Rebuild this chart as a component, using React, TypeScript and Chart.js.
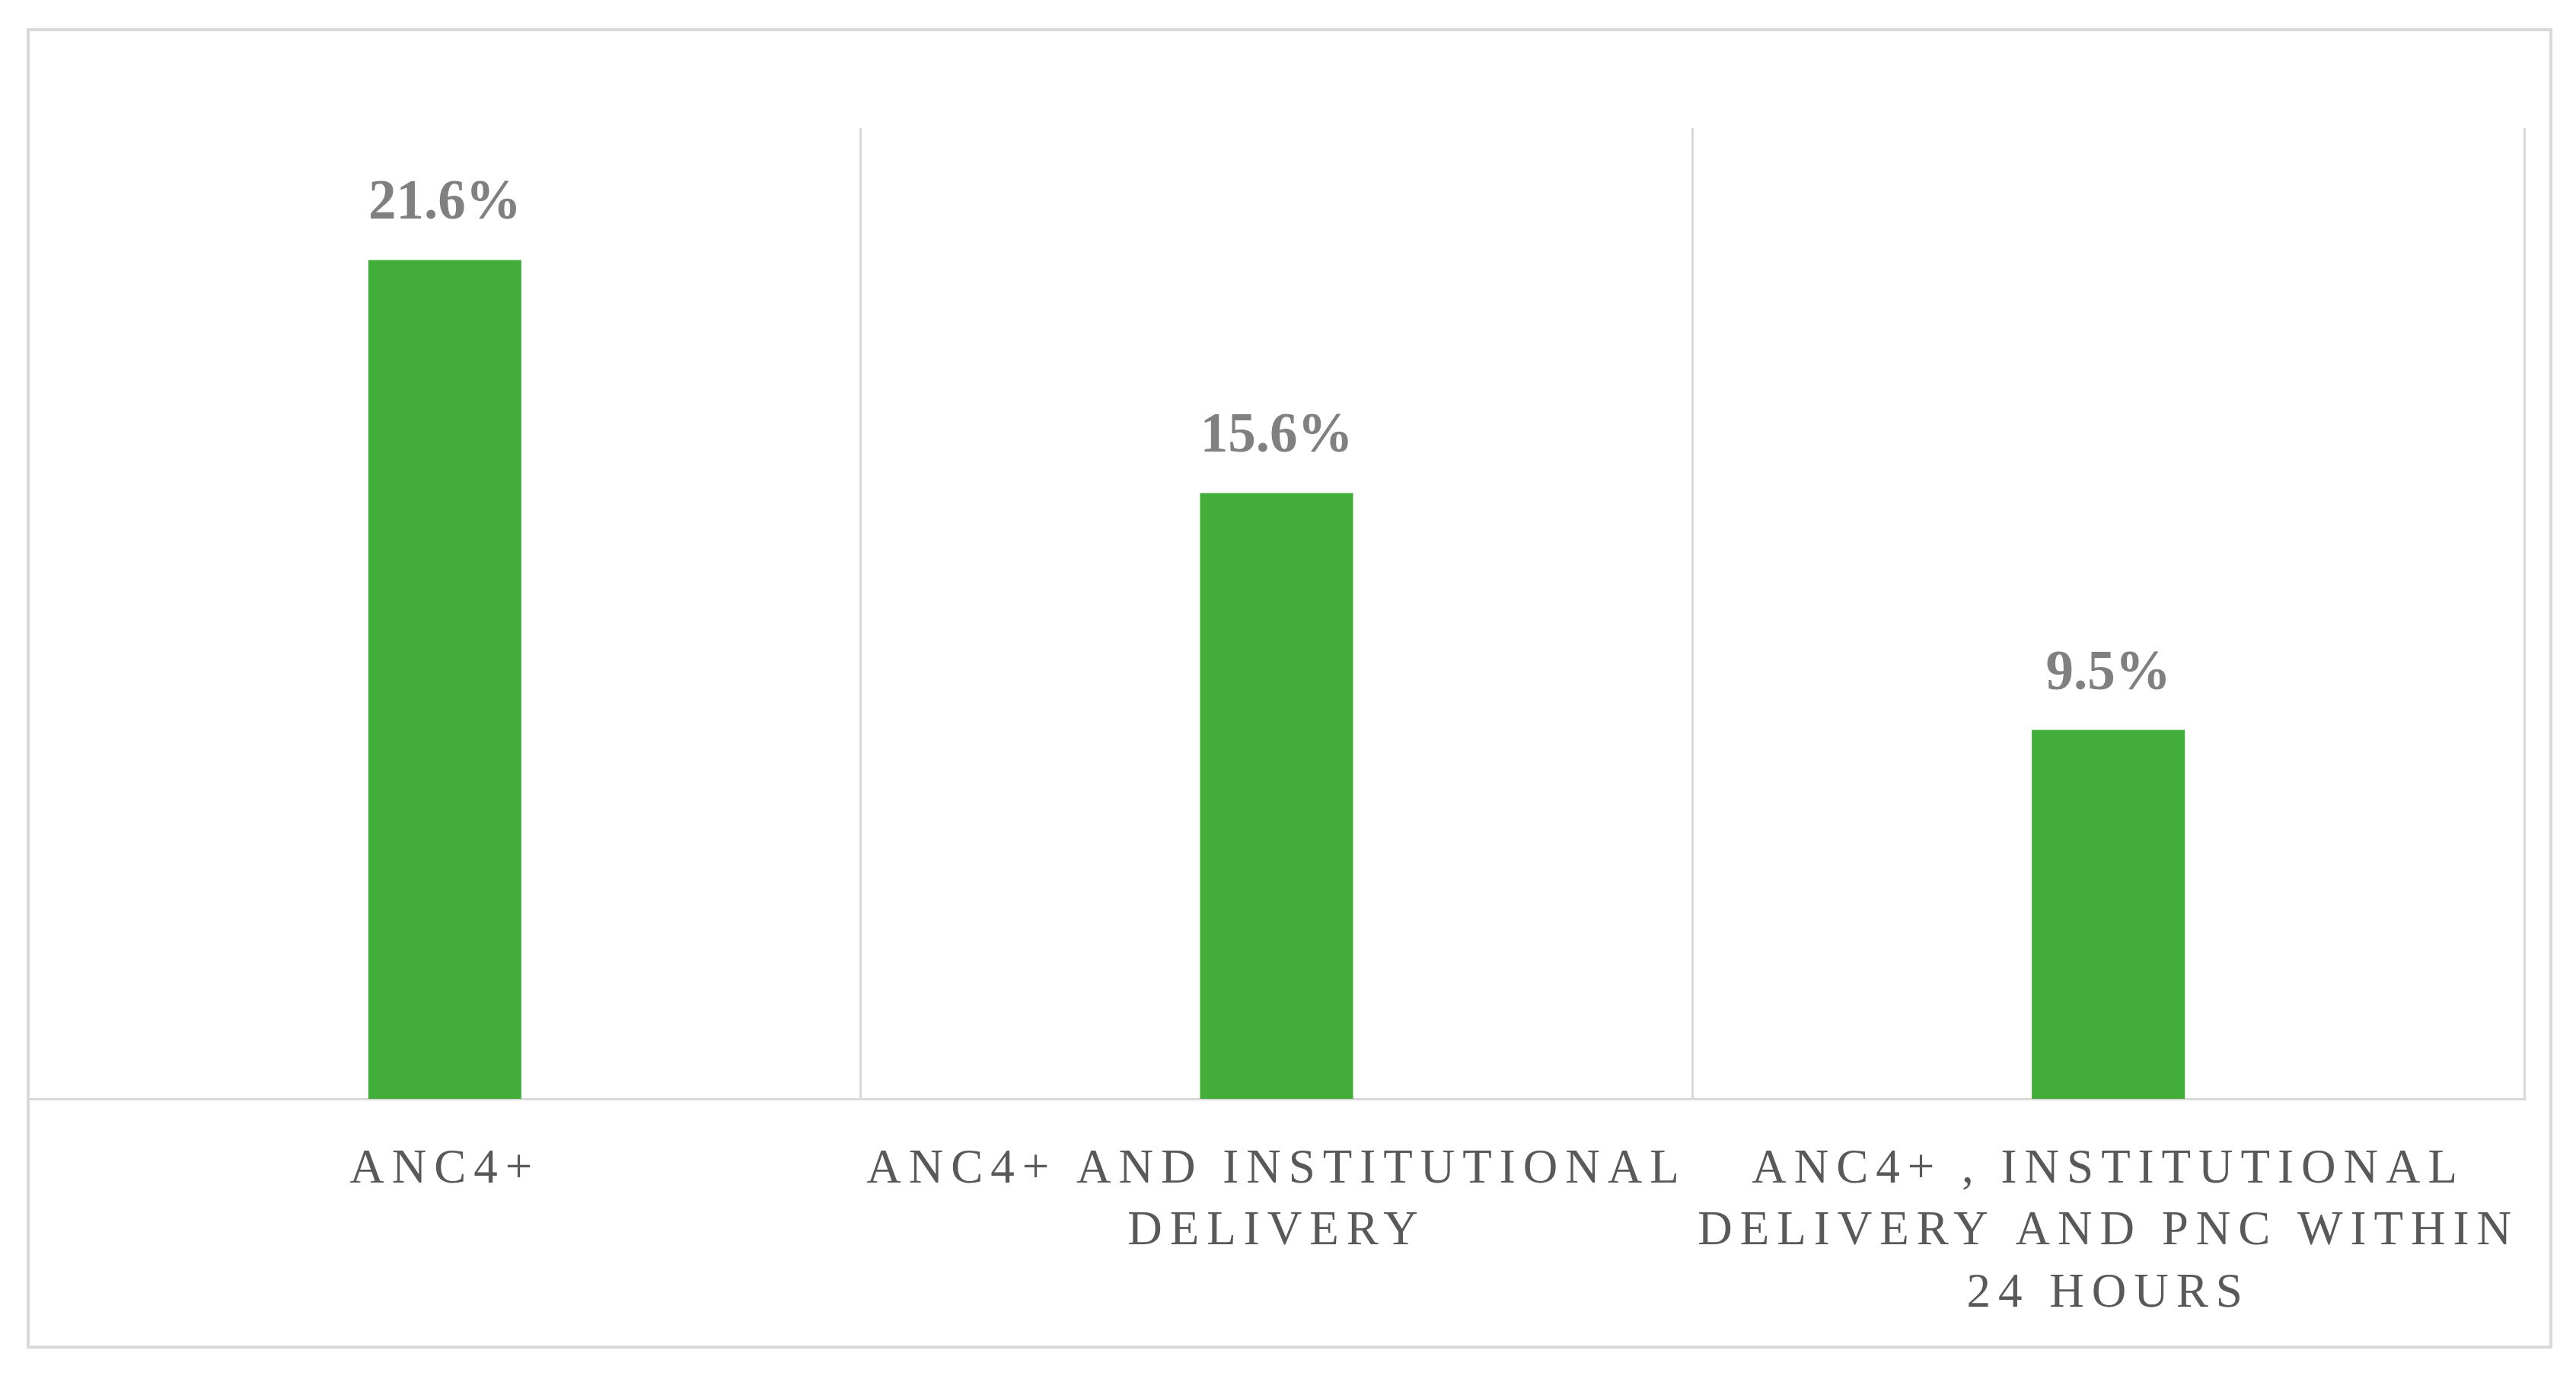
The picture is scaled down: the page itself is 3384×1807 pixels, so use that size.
import React, { useEffect, useRef } from "react";
import { Chart, registerables } from "chart.js";

Chart.register(...registerables);

const categories: string[][] = [
  ["ANC4+"],
  ["ANC4+ AND INSTITUTIONAL", "DELIVERY"],
  ["ANC4+ , INSTITUTIONAL", "DELIVERY AND PNC WITHIN", "24 HOURS"],
];
const values: number[] = [21.6, 15.6, 9.5];
const yMin = 0;
const yMax = 25;

const W = 3384;
const H = 1807;
const GRID = "#d9d9d9";
const BAR = "#43ad3a";
const SERIF = "'Liberation Serif', 'Times New Roman', serif";

const frame = {
  id: "frame",
  beforeDraw(chart: any) {
    const ctx = chart.ctx;
    ctx.save();
    ctx.fillStyle = "#ffffff";
    ctx.fillRect(0, 0, chart.width, chart.height);
    ctx.strokeStyle = GRID;
    ctx.lineWidth = 4;
    ctx.strokeRect(37, 39, 3351 - 37, 1769 - 39);
    ctx.restore();
    (ctx as any).letterSpacing = "10px";
  },
  afterDraw(chart: any) {
    (chart.ctx as any).letterSpacing = "0px";
  },
};

const valueLabels = {
  id: "valueLabels",
  afterDatasetsDraw(chart: any) {
    const ctx = chart.ctx;
    const meta = chart.getDatasetMeta(0);
    ctx.save();
    (ctx as any).letterSpacing = "0px";
    ctx.font = `bold 73px ${SERIF}`;
    ctx.fillStyle = "#808080";
    ctx.textAlign = "center";
    ctx.textBaseline = "alphabetic";
    meta.data.forEach((bar: any, i: number) => {
      ctx.fillText(`${values[i].toFixed(1)}%`, bar.x, bar.y - 54);
    });
    ctx.restore();
  },
};

export default function App() {
  const ref = useRef<HTMLCanvasElement | null>(null);

  useEffect(() => {
    document.body.style.margin = "0";
    const canvas = ref.current!;
    const chart = new Chart(canvas, {
      type: "bar",
      data: {
        labels: categories,
        datasets: [
          {
            data: values,
            backgroundColor: BAR,
            borderWidth: 0,
            categoryPercentage: 1,
            barPercentage: 0.184,
          },
        ],
      },
      options: {
        animation: false,
        responsive: false,
        devicePixelRatio: 1,
        layout: { padding: { left: 38, right: 68, top: 168, bottom: 0 } },
        plugins: {
          legend: { display: false },
          tooltip: { enabled: false },
          title: { display: false },
        },
        scales: {
          x: {
            grid: {
              display: true,
              color: GRID,
              lineWidth: 3,
              drawTicks: false,
              offset: true,
            },
            border: { display: true, color: GRID, width: 3 },
            ticks: {
              autoSkip: false,
              maxRotation: 0,
              minRotation: 0,
              padding: 53,
              color: "#595959",
              font: { family: SERIF, size: 63, lineHeight: 1.29 },
            },
            afterFit: (scale: any) => {
              scale.height = 364;
            },
          },
          y: {
            display: false,
            min: yMin,
            max: yMax,
          },
        },
      },
      plugins: [frame, valueLabels],
    });
    return () => chart.destroy();
  }, []);

  return (
    <div style={{ position: "fixed", left: 0, top: 0, width: W, height: H, background: "#fff" }}>
      <canvas ref={ref} width={W} height={H} style={{ display: "block", width: W, height: H }} />
    </div>
  );
}
